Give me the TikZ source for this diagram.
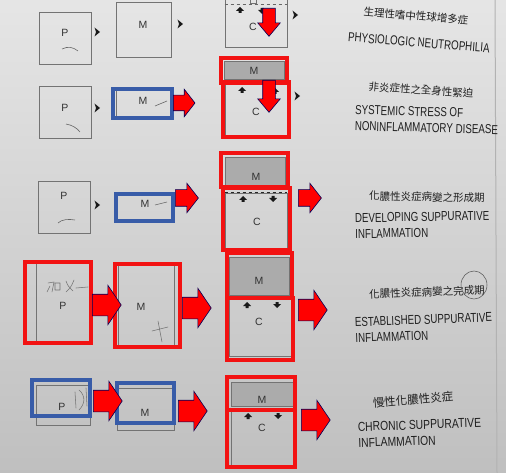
\documentclass[tikz,border=0pt]{standalone}
\usepackage{fontspec}
\setsansfont{Liberation Sans}
\newfontfamily\cjk{Noto Sans CJK TC}
\usetikzlibrary{positioning,shapes.arrows}

\definecolor{markred}{RGB}{242,18,18}
\definecolor{markblue}{RGB}{56,92,168}

\tikzset{
  box/.style={draw=black!55, line width=0.6pt, inner sep=0pt},
  band/.style={box, fill=black!33},
  redframe/.style={draw=markred, line width=3.4pt},
  blueframe/.style={draw=markblue, line width=3.4pt},
  lbl/.style={font=\sffamily\fontsize{10.5}{12}\selectfont, text=black!80, inner sep=0pt},
  fatarrow/.style={single arrow, anchor=tail, fill=red, draw=blue!35!black, line width=0.6pt,
    inner sep=7.5pt, single arrow head extend=6pt, single arrow tip angle=104, minimum height=20pt},
  bigarrow/.style={fatarrow, inner sep=10.5pt, single arrow head extend=9pt,
    single arrow tip angle=112, minimum height=22pt},
  downarrow/.style={fatarrow, rotate=-90, inner sep=6pt, single arrow head extend=5pt,
    single arrow tip angle=80, minimum height=28pt},
  en/.style={font=\sffamily\fontsize{13}{16}\selectfont, text=black!88, align=left,
    anchor=west, inner sep=0pt, xscale=0.75},
  zh/.style={font=\cjk\fontsize{10.5}{12}\selectfont, text=black!88, inner sep=0pt},
  inkline/.style={draw=black!60, line width=0.6pt},
  pencil/.style={draw=black!55, line width=0.55pt, line cap=round, line join=round},
  blob/.pic={\fill[black!90] (-2.5,-4.5) -- (3,0) -- (-2.5,4.5) -- (-1,0) -- cycle;},
  blipup/.pic={\fill[black!90] (-4,1) -- (0,-3) -- (4,1) -- (1.5,1) -- (1.5,3) -- (-1.5,3) -- (-1.5,1) -- cycle;},
  blipdn/.pic={\fill[black!90] (-4,-1) -- (0,3) -- (4,-1) -- (1.5,-1) -- (1.5,-3) -- (-1.5,-3) -- (-1.5,-1) -- cycle;}
}

\begin{document}
\begin{tikzpicture}[x=1pt, y=-1pt]
  \useasboundingbox (0,0) rectangle (506,473);
  \shade[top color=black!10, bottom color=black!25] (0,0) rectangle (506,473);
  \draw[black!30, line width=1pt] (495,0) -- (497,473);

  % row 1
  \node[box, minimum width=52pt, minimum height=52pt] (p1) at (65,38) {};
  \node[box, minimum width=55pt, minimum height=55pt] (m1) at (144,30) {};
  \node[box, minimum width=62pt, minimum height=54pt] (c1) at (256,20) {};
  \node[lbl] (tp1) at (65,33) {P};
  \node[lbl] (tm1) at (143,25) {M};
  \node[lbl] (tc1) at (253,27) {C};
  \draw[inkline] (62,49) .. controls (68,46) and (73,47) .. (78,51);
  \draw[black!60, dashed] (c1.west |- 0,4) -- (c1.east |- 0,4);
  \node[box, minimum width=6pt, minimum height=5pt] (c1m) at (253,1) {};
  \pic at (240,10) {blipup};
  \pic at (262,11) {blipdn};
  \pic at (97,32) {blob};
  \pic at (180,24) {blob};
  \pic at (295,15) {blob};
  \node[downarrow] (d1) at (269,8) {};

  % row 2
  \node[box, minimum width=52pt, minimum height=52pt] (p2) at (65,112) {};
  \node[box, minimum width=56pt, minimum height=28pt] (m2) at (144,102) {};
  \node[band, minimum width=60pt, minimum height=18pt] (mm2) at (254,70) {};
  \node[box, minimum width=62pt, minimum height=56pt] (c2) at (256,109) {};
  \node[lbl] (tp2) at (65,108) {P};
  \node[lbl] (tm2) at (143,101) {M};
  \node[lbl] (tmm2) at (254,71) {M};
  \node[lbl] (tc2) at (256,112) {C};
  \draw[inkline] (66,124) .. controls (72,125) and (77,128) .. (80,132);
  \draw[inkline] (155,106) -- (167,101);
  \pic at (242,90) {blipup};
  \pic at (275,91) {blipup};
  \pic at (97,108) {blob};
  \pic at (297,96) {blob};
  \draw[blueframe] (113,89) rectangle (172,118);
  \draw[redframe] (221,58) rectangle (287,83);
  \draw[redframe] (223,82) rectangle (289,137);
  \node[fatarrow] (r2) at (173,103) {};
  \node[downarrow, minimum height=32pt] (d2) at (269,80) {};

  % row 3
  \node[box, minimum width=52pt, minimum height=52pt] (p3) at (64,207) {};
  \node[box, minimum width=56pt, minimum height=27pt] (m3) at (144,207) {};
  \node[band, minimum width=60pt, minimum height=28pt] (mm3) at (255,171) {};
  \node[box, minimum width=62pt, minimum height=56pt] (c3) at (256,221) {};
  \draw[black!85, dashed, line width=0.8pt] (c3.north west) -- (c3.north east);
  \node[lbl] (tp3) at (64,196) {P};
  \node[lbl] (tm3) at (145,204) {M};
  \node[lbl] (tmm3) at (256,177) {M};
  \node[lbl] (tc3) at (257,222) {C};
  \draw[inkline] (58,223) .. controls (62,219) and (69,219) .. (75,220);
  \draw[inkline] (155,205) -- (167,202);
  \pic at (243,199) {blipup};
  \pic at (273,199) {blipdn};
  \pic at (97,205) {blob};
  \draw[blueframe] (116,194) rectangle (173,221);
  \draw[redframe] (221,153) rectangle (288,187);
  \draw[redframe] (223,188) rectangle (290,250);
  \node[fatarrow, inner sep=8pt, single arrow head extend=6.5pt, minimum height=22pt] (r3a) at (175,198) {};
  \node[fatarrow, inner sep=8pt, single arrow head extend=6.5pt] (r3b) at (298,198) {};

  % row 4
  \node[box, minimum width=54pt, minimum height=78pt] (p4) at (63,302) {};
  \node[box, minimum width=56pt, minimum height=80pt] (m4) at (146,305) {};
  \node[band, minimum width=60pt, minimum height=38pt] (mm4) at (259,276) {};
  \node[box, minimum width=62pt, minimum height=58pt] (c4) at (260,327) {};
  \node[lbl] (tp4) at (63,306) {P};
  \node[lbl] (tm4) at (141,307) {M};
  \node[lbl] (tmm4) at (259,281) {M};
  \node[lbl] (tc4) at (259,322) {C};
  \draw[pencil] (48,283) -- (54,282) -- (52,292) (50,286) -- (47,292)
    (55,283) -- (55,290) -- (60,290) -- (60,283) -- cycle;
  \draw[pencil] (66,281) .. controls (68,286) .. (73,291) (74,280) .. controls (71,287) .. (66,292)
    (76,288) -- (88,287);
  \draw[pencil] (152,331) -- (168,327) (158,321) -- (162,342);
  \pic at (247,305) {blipup};
  \pic at (277,305) {blipdn};
  \draw[redframe] (25,262) rectangle (91,343);
  \draw[redframe] (115,264) rectangle (180,347);
  \draw[redframe] (227,253) rectangle (292,298);
  \draw[redframe] (227,298) rectangle (293,360);
  \node[bigarrow] (r4a) at (92,305) {};
  \node[bigarrow] (r4b) at (182,308) {};
  \node[bigarrow] (r4c) at (298,310) {};

  % row 5
  \node[box, minimum width=54pt, minimum height=40pt] (p5) at (63,405) {};
  \node[box, minimum width=57pt, minimum height=42pt] (m5) at (146,409) {};
  \node[band, minimum width=62pt, minimum height=24pt] (mm5) at (262,394) {};
  \node[box, minimum width=62pt, minimum height=54pt] (c5) at (262,438) {};
  \node[lbl] (tp5) at (62,407) {P};
  \node[lbl] (tm5) at (145,413) {M};
  \node[lbl] (tmm5) at (262,400) {M};
  \node[lbl] (tc5) at (262,428) {C};
  \draw[pencil] (75,392) -- (76,408) (79,390) .. controls (86,396) and (85,404) .. (79,410)
    (86,388) -- (87,406);
  \pic at (248,416) {blipup};
  \pic at (278,416) {blipdn};
  \draw[blueframe] (32,380) rectangle (90,416);
  \draw[blueframe] (117,383) rectangle (174,423);
  \draw[redframe] (227,377) rectangle (295,410);
  \draw[redframe] (227,410) rectangle (295,467);
  \node[bigarrow] (r5a) at (93,401) {};
  \node[bigarrow] (r5b) at (178,411) {};
  \node[bigarrow] (r5c) at (301,420) {};

  % captions
  \node[rotate=-5, zh] (z1) at (416,16) {生理性嗜中性球增多症};
  \node[rotate=-4.5, en] (e1) at (348,37) {PHYSIOLOGIC NEUTROPHILIA};
  \node[rotate=-4, zh] (z2) at (421,90) {非炎症性之全身性緊迫};
  \node[rotate=-1.5, en] (e2) at (355,118) {SYSTEMIC STRESS OF\\NONINFLAMMATORY DISEASE};
  \node[rotate=-1, zh] (z3) at (427,197) {化膿性炎症病變之形成期};
  \node[rotate=1, en] (e3) at (355,226) {DEVELOPING SUPPURATIVE\\INFLAMMATION};
  \node[rotate=2, zh] (z4) at (427,292) {化膿性炎症病變之完成期};
  \draw[pencil, draw=black!65] (474,285) ellipse [x radius=13, y radius=14];
  \node[rotate=2, en] (e4) at (355,330) {ESTABLISHED SUPPURATIVE\\INFLAMMATION};
  \node[rotate=5, zh, font=\cjk\fontsize{11.5}{13}\selectfont] (z5) at (413,400) {慢性化膿性炎症};
  \node[rotate=2, en, xscale=1.06] (e5) at (358,435) {CHRONIC SUPPURATIVE\\INFLAMMATION};
\end{tikzpicture}
\end{document}
